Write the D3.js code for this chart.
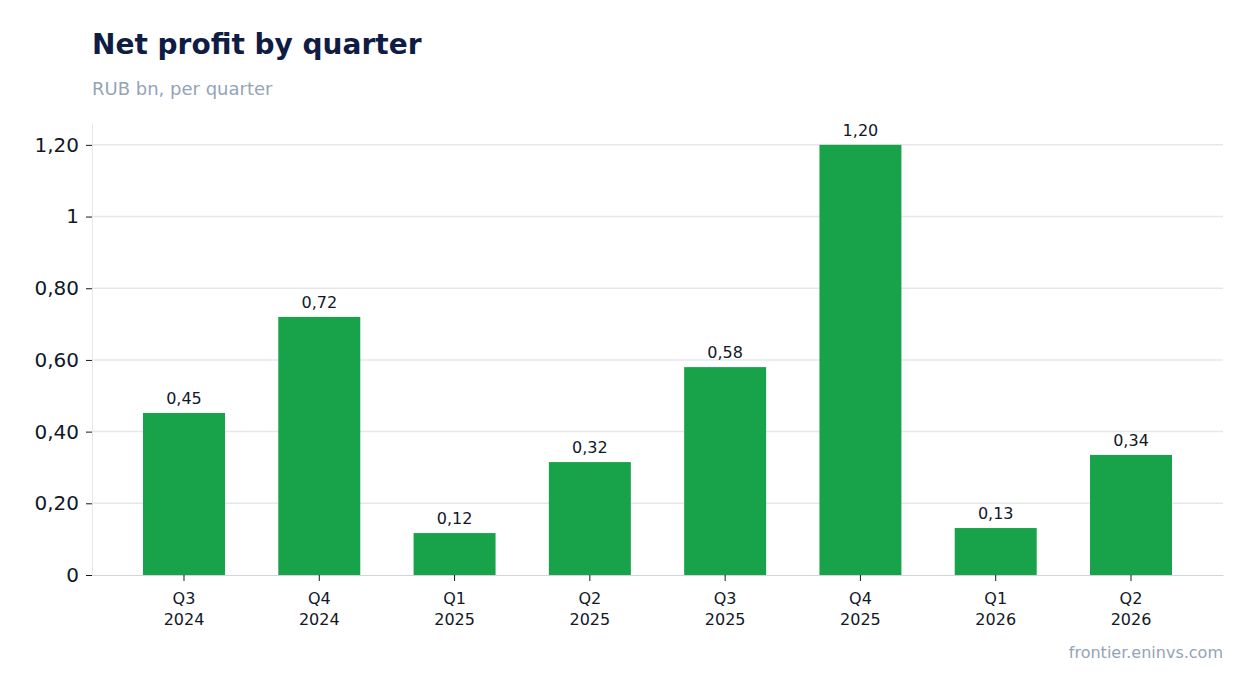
<!DOCTYPE html>
<html>
<head>
<meta charset="utf-8">
<script src="https://cdn.jsdelivr.net/npm/d3@7"></script>
<style>
  body { margin: 0; background: #fff; font-family: "DejaVu Sans", sans-serif; }
</style>
</head>
<body>
<div id="chart"></div>
<script>
const quarters = ["Q3", "Q4", "Q1", "Q2", "Q3", "Q4", "Q1", "Q2"];
const years = ["2024", "2024", "2025", "2025", "2025", "2025", "2026", "2026"];
const profit = [0.452, 0.72, 0.117, 0.315, 0.58, 1.2, 0.131, 0.335];
const yTicks = [0, 0.2, 0.4, 0.6, 0.8, 1, 1.2];

const W = 1254, H = 693;
const margin = { top: 123, right: 31, bottom: 118, left: 92 };
const width = W - margin.left - margin.right,
      height = H - margin.top - margin.bottom;

const svg = d3.select("#chart").append("svg").attr("width", W).attr("height", H);

svg.append("text").attr("x", 92).attr("y", 54)
    .style("font-size", "28px").style("font-weight", "bold").style("fill", "#0f1c44")
    .text("Net profit by quarter");
svg.append("text").attr("x", 92).attr("y", 95)
    .style("font-size", "18px").style("fill", "#94a3b8")
    .text("RUB bn, per quarter");
svg.append("text").attr("x", 1223).attr("y", 658).attr("text-anchor", "end")
    .style("font-size", "16px").style("fill", "#94a3b8")
    .text("frontier.eninvs.com");

const g = svg.append("g").attr("transform", "translate(" + margin.left + "," + margin.top + ")");

const idx = profit.map((d, i) => i);
const x = d3.scaleBand().domain(idx).range([0, width]).paddingInner(0.394).paddingOuter(0.377);
const y = d3.scaleLinear().domain([0, 1.261]).range([height, 0]);

const fmt = v => v === 0 ? "0" : (v === 1 ? "1" : v.toFixed(2).replace(".", ","));

// grid
g.selectAll(".grid").data(yTicks.filter(d => d > 0)).enter().append("line")
    .attr("x1", 0).attr("x2", width)
    .attr("y1", d => y(d)).attr("y2", d => y(d))
    .attr("stroke", "#e5e7eb").attr("stroke-width", 1.5);

// y axis
const yAxis = g.append("g").call(d3.axisLeft(y).tickValues(yTicks).tickFormat(fmt).tickSizeOuter(0));
yAxis.select(".domain").attr("stroke", "#e5e7eb");
yAxis.selectAll(".tick line").attr("stroke", "#111827");
yAxis.selectAll(".tick text").style("font-size", "20px").style("fill", "#111827")
    .style("font-family", "DejaVu Sans").attr("x", -13);

// bars
g.selectAll(".bar").data(profit).enter().append("rect")
    .attr("x", (d, i) => x(i)).attr("width", x.bandwidth())
    .attr("y", d => y(d)).attr("height", d => height - y(d))
    .attr("fill", "#18a34a");

g.selectAll(".val").data(profit).enter().append("text")
    .attr("x", (d, i) => x(i) + x.bandwidth() / 2).attr("y", d => y(d) - 9)
    .attr("text-anchor", "middle").style("font-size", "16px").style("fill", "#111827")
    .text(d => d.toFixed(2).replace(".", ","));

// x axis
const xAxis = g.append("g").attr("transform", "translate(0," + height + ")")
    .call(d3.axisBottom(x).tickFormat("").tickSizeOuter(0));
xAxis.select(".domain").attr("stroke", "#d1d5db");
xAxis.selectAll(".tick line").attr("stroke", "#111827");
xAxis.selectAll(".tick").each(function(d, i) {
    const t = d3.select(this).append("text").attr("fill", "#111827")
        .style("font-size", "16px").style("font-family", "DejaVu Sans").attr("text-anchor", "middle");
    t.append("tspan").attr("x", 0).attr("y", 29).text(quarters[i]);
    t.append("tspan").attr("x", 0).attr("y", 50).text(years[i]);
});
</script>
</body>
</html>
